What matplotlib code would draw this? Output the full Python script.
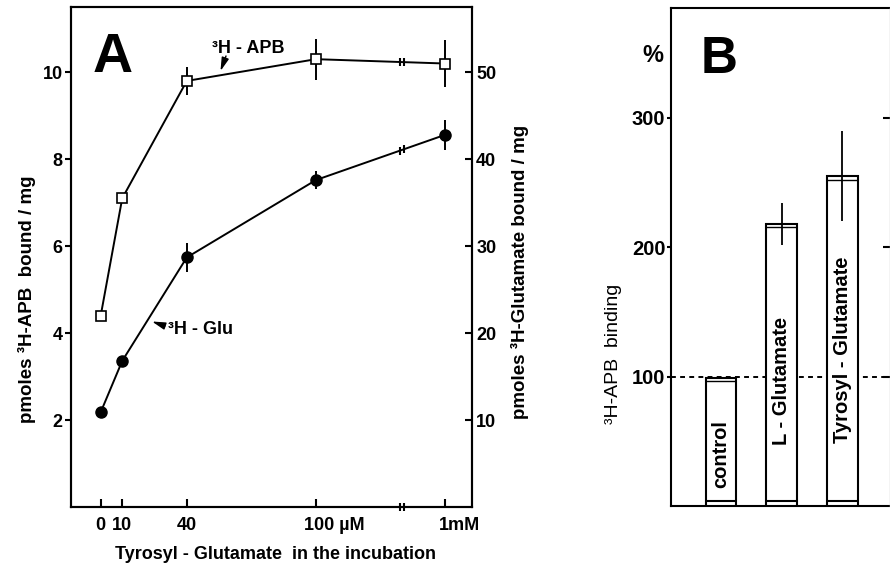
import matplotlib
matplotlib.use('Agg')
import matplotlib.pyplot as plt
import numpy as np
from matplotlib.transforms import ScaledTranslation
from matplotlib.patches import FancyArrowPatch

plt.rcParams['font.family'] = ['Liberation Sans', 'DejaVu Sans']
plt.rcParams['font.weight'] = 'bold'

# ---------------- data ----------------
# Panel A: Tyrosyl-Glutamate concentration (broken axis: 1 mM placed after the break)
conc_labels = ['0', '10', '40', '100 µM', '1mM']
conc_pos = [0, 10, 40, 100, 160]
break_pos = [139, 141]

apb = [4.4, 7.1, 9.8, 10.3, 10.2]          # pmoles 3H-APB bound / mg (left axis)
apb_err = [0, 0, 0.33, 0.47, 0.55]
glu = [10.9, 16.8, 28.7, 37.6, 42.8]       # pmoles 3H-Glutamate bound / mg (right axis)
glu_err = [0, 0, 1.7, 1.0, 1.75]

left_ticks = [2, 4, 6, 8, 10]
right_ticks = [10, 20, 30, 40, 50]

# Panel B
groups = ['control', 'L - Glutamate', 'Tyrosyl - Glutamate']
binding = [99, 218, 255]
binding_err = [0, 16, 35]
b_ticks = [100, 200, 300]
label_y = [40, 97, 121]

W, H = 890, 565
fig = plt.figure(figsize=(W / 100, H / 100), dpi=100)


def fx(x):
    return x / W


def fy(y):
    return 1 - y / H


# ---------------- Panel A ----------------
axA = fig.add_axes([fx(71), fy(507), (472 - 71) / W, (507 - 7) / H])
axG = axA.twinx()
axA.set_xlim(-13.8, 172.5)
axA.set_ylim(0, 11.5)
axG.set_ylim(0, 57.5)

axA.errorbar(conc_pos, apb, yerr=apb_err, fmt='none', ecolor='black',
             elinewidth=1.4, capsize=0, zorder=2)
axA.plot(conc_pos, apb, '-', color='black', lw=1.4, marker='s', ms=7,
         mfc='white', mec='black', mew=1.2, zorder=3)
axG.errorbar(conc_pos, glu, yerr=glu_err, fmt='none', ecolor='black',
             elinewidth=1.4, capsize=0, zorder=2)
axG.plot(conc_pos, glu, '-', color='black', lw=1.4, marker='o', ms=8,
         mfc='black', mec='black', zorder=3)

# axis break marks
axA.plot(break_pos, np.interp(break_pos, conc_pos, apb), ls='none', marker='|',
         ms=6, mew=1.5, color='black', zorder=4)
axG.plot(break_pos, np.interp(break_pos, conc_pos, glu), ls='none', marker='|',
         ms=6, mew=1.5, color='black', zorder=4)
axA.plot(break_pos, [0, 0], ls='none', marker='|', ms=6, mew=1.5,
         color='black', clip_on=False, zorder=5)

axA.set_xticks(conc_pos)
axA.set_xticklabels(conc_labels)
axA.tick_params(axis='x', direction='in', length=6, width=1.5, pad=7, labelsize=13)
axA.set_yticks(left_ticks)
axA.tick_params(axis='y', direction='out', length=4, width=1.5, pad=2, labelsize=13)
axG.set_yticks(right_ticks)
axG.tick_params(axis='y', direction='in', length=5, width=1.5, pad=3, labelsize=13)

xt = axA.get_xticklabels()
for lab, dx in [(xt[3], -12), (xt[4], -6)]:
    lab.set_horizontalalignment('left')
    lab.set_transform(lab.get_transform() + ScaledTranslation(dx / 100, 0, fig.dpi_scale_trans))

for ax in (axA, axG):
    for s in ax.spines.values():
        s.set_linewidth(1.5)

fig.text(fx(112.5), fy(72), 'A', fontsize=40, ha='center', va='baseline')
fig.text(fx(211.7), fy(53), '³H - APB', fontsize=13, ha='left', va='baseline')
fig.text(fx(168.5), fy(334), '³H - Glu', fontsize=13, ha='left', va='baseline')
fig.add_artist(FancyArrowPatch(posA=(fx(226), fy(56)), posB=(fx(220.5), fy(71)),
                               transform=fig.transFigure,
                               arrowstyle='-|>,head_length=0.8,head_width=0.22',
                               mutation_scale=10, lw=1, color='black',
                               shrinkA=0, shrinkB=0))
fig.add_artist(FancyArrowPatch(posA=(fx(165), fy(326)), posB=(fx(152), fy(321.5)),
                               transform=fig.transFigure,
                               arrowstyle='-|>,head_length=0.8,head_width=0.22',
                               mutation_scale=10, lw=1, color='black',
                               shrinkA=0, shrinkB=0))

fig.text(fx(275.5), fy(559), 'Tyrosyl - Glutamate  in the incubation',
         fontsize=13, ha='center', va='baseline')
fig.text(fx(27), fy(299.5), 'pmoles ³H-APB  bound / mg', fontsize=13.5,
         rotation=90, ha='center', va='center')
fig.text(fx(520), fy(272), 'pmoles ³H-Glutamate bound / mg', fontsize=13.5,
         rotation=90, ha='center', va='center')

# ---------------- Panel B ----------------
axB = fig.add_axes([fx(671), fy(506), (889.5 - 671) / W, (506 - 8) / H])
axB2 = axB.twinx()
xpos = np.arange(len(groups))
axB.set_xlim(-0.823, 2.774)
axB.set_ylim(0, 385)
axB2.set_ylim(0, 385)
bw = 0.51

axB.axhline(100, color='black', lw=1.4, ls=(0, (2.5, 2.2)), zorder=1)
axB.bar(xpos, binding, width=bw, color='white', edgecolor='black', lw=1.5, zorder=3)
axB.hlines([v - 2.6 for v in binding], xpos - bw / 2, xpos + bw / 2,
           color='black', lw=1.0, zorder=4)
axB.hlines([4] * len(groups), xpos - bw / 2, xpos + bw / 2,
           color='black', lw=1.5, zorder=4)
axB.errorbar(xpos, binding, yerr=binding_err, fmt='none', ecolor='black',
             elinewidth=1.3, capsize=0, zorder=5)
for x, y, g in zip(xpos, label_y, groups):
    axB.text(x, y, g, rotation=90, ha='center', va='center', fontsize=14.5, zorder=6)

axB.set_xticks([])
axB.set_yticks(b_ticks)
axB.tick_params(axis='y', direction='out', length=3, width=1.5, pad=1, labelsize=14.5)
axB2.set_yticks(b_ticks)
axB2.set_yticklabels([])
axB2.tick_params(axis='y', direction='in', length=5, width=1.5)
for s in axB.spines.values():
    s.set_linewidth(1.5)
axB.spines['right'].set_visible(False)
for k in ('left', 'top', 'bottom'):
    axB2.spines[k].set_visible(False)
axB2.spines['right'].set_color('#c8c8c8')
axB2.spines['right'].set_linewidth(1.0)

fig.text(fx(719), fy(73.3), 'B', fontsize=37, ha='center', va='baseline')
fig.text(fx(652.8), fy(61.7), '%', fontsize=17, ha='center', va='baseline')
fig.text(fx(613), fy(354), '³H-APB  binding', fontsize=14, fontweight='normal',
         rotation=90, ha='center', va='center')

fig.savefig('out.png', dpi=100)
